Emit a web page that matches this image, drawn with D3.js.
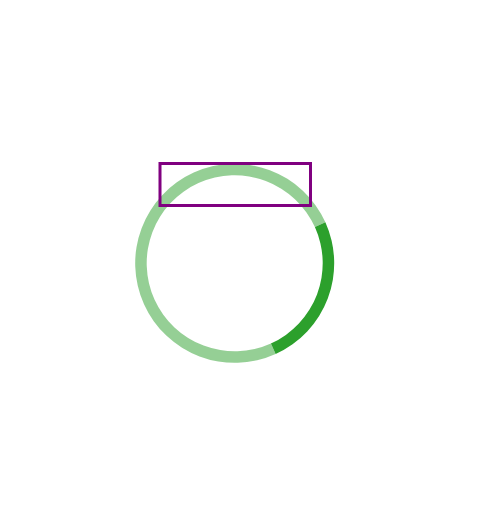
<!DOCTYPE html>
<html>
<head>
<meta charset="utf-8">
<script src="https://cdn.jsdelivr.net/npm/d3@7"></script>
<style>
  html { overflow-y: scroll; }
  body { margin: 8px; background: #fff; }
  svg { display: block; }
  ::-webkit-scrollbar { width: 15px; background: #f1f1f1; }
  ::-webkit-scrollbar-thumb { background: #c1c1c1; border: 2px solid #f1f1f1; border-left-width: 3px; border-right-width: 2px; }
  ::-webkit-scrollbar-track { background: #f1f1f1; }
  ::-webkit-scrollbar-button:single-button { display: block; height: 15px; background: #f1f1f1; }
</style>
</head>
<body>
<script>
// Data
const categories = ["rest", "selected"];
const values = [75, 25];
const colors = ["#2ca02c", "#2ca02c"];
const opacities = [0.5, 1];
const startDeg = 155.7;

const width = 460, height = 1312;
const svg = d3.select("body").append("svg")
  .attr("width", width)
  .attr("height", height);

const cx = 226.7, cy = 255.3;
const g = svg.append("g").attr("transform", `translate(${cx},${cy})`);

const start = startDeg * Math.PI / 180;
const pie = d3.pie().sort(null).value(d => d.v)
  .startAngle(start).endAngle(start + 2 * Math.PI);

const arcs = pie(categories.map((c, i) => ({ c, v: values[i], i })));
const arc = d3.arc().innerRadius(88).outerRadius(99.5);

g.selectAll("path").data(arcs).enter().append("path")
  .attr("d", arc)
  .attr("fill", d => colors[d.data.i])
  .attr("fill-opacity", d => opacities[d.data.i]);

// highlight rectangle
svg.append("rect")
  .attr("x", 152).attr("y", 155.5)
  .attr("width", 150.5).attr("height", 42)
  .attr("fill", "none")
  .attr("stroke", "purple")
  .attr("stroke-width", 3);
</script>
</body>
</html>
